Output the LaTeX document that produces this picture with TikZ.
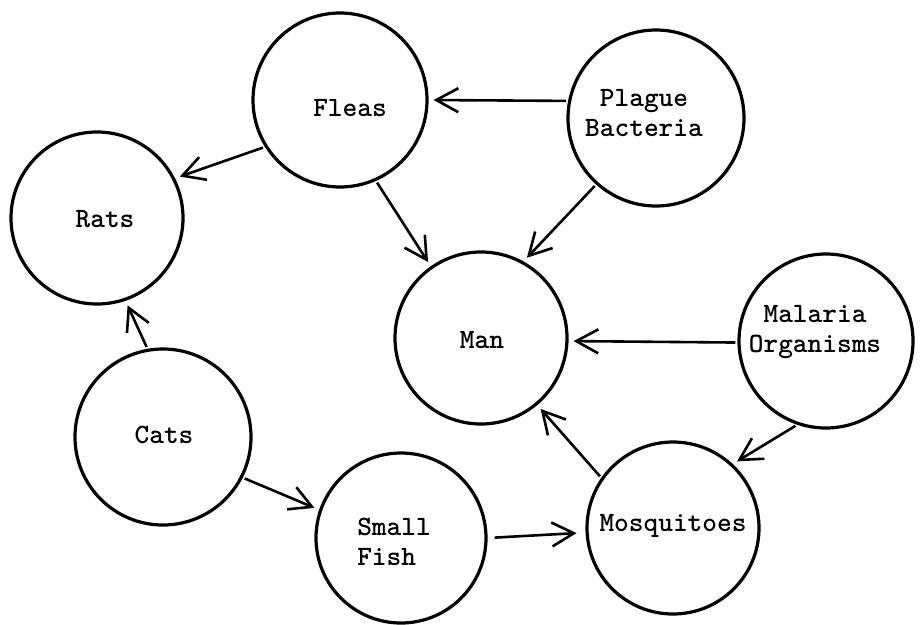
\documentclass[tikz,border=0pt]{standalone}
\usepackage{fontspec}
\usetikzlibrary{arrows.meta}
\tikzset{
  bubble/.style={circle, draw, line width=3.2pt, inner sep=0pt, minimum size=#1},
  lbl/.style={font=\ttfamily\bfseries\fontsize{28}{29.5}\selectfont, inner sep=0pt, align=center},
  link/.style={line width=2.6pt, -{Straight Barb[length=22pt,width=24pt,line width=2.6pt]}, shorten >=5pt, shorten <=2pt},
}
\begin{document}
\begin{tikzpicture}[x=1pt,y=-1pt]
\useasboundingbox (0,0) rectangle (920,624);
% circles
\node[bubble=174pt] (fleas) at (340,100) {};
\node[bubble=176pt] (pb) at (656,118) {};
\node[bubble=172pt] (rats) at (97,218) {};
\node[bubble=172pt] (man) at (481,338) {};
\node[bubble=174pt] (mal) at (826,341) {};
\node[bubble=176pt] (cats) at (163,437) {};
\node[bubble=170pt] (fish) at (401,538) {};
\node[bubble=172pt] (mosq) at (673,528) {};
% labels
\node[lbl] (tfleas) at (350,108) {Fleas};
\node[lbl] (tpb) at (644,113) {Plague\\Bacteria};
\node[lbl] (trats) at (105,219) {Rats};
\node[lbl] (tman) at (482,340) {Man};
\node[lbl] (tmal) at (815,332) {Malaria\\Organisms};
\node[lbl] (tcats) at (164,435) {Cats};
\node[lbl, align=left] (tfish) at (394,542) {Small\\Fish};
\node[lbl] (tmosq) at (673,526) {Mosquitoes};
% connectors
\draw[link] (pb.169) -- (fleas.0);
\draw[link] (fleas.212) -- (rats.27);
\draw[link] (fleas.294) -- (man.125);
\draw[link] (pb.228) -- (man.61);
\draw[link] (mal.181) -- (man.358);
\draw[link] (mal.251) -- (mosq.47);
\draw[link] (mosq.145) -- (man.310);
\draw[link, shorten >=9pt, shorten <=7pt] (fish.0) -- (mosq.183);
\draw[link] (cats.333) -- (fish.161);
\draw[link] (cats.100) -- (rats.289);
\end{tikzpicture}
\end{document}
